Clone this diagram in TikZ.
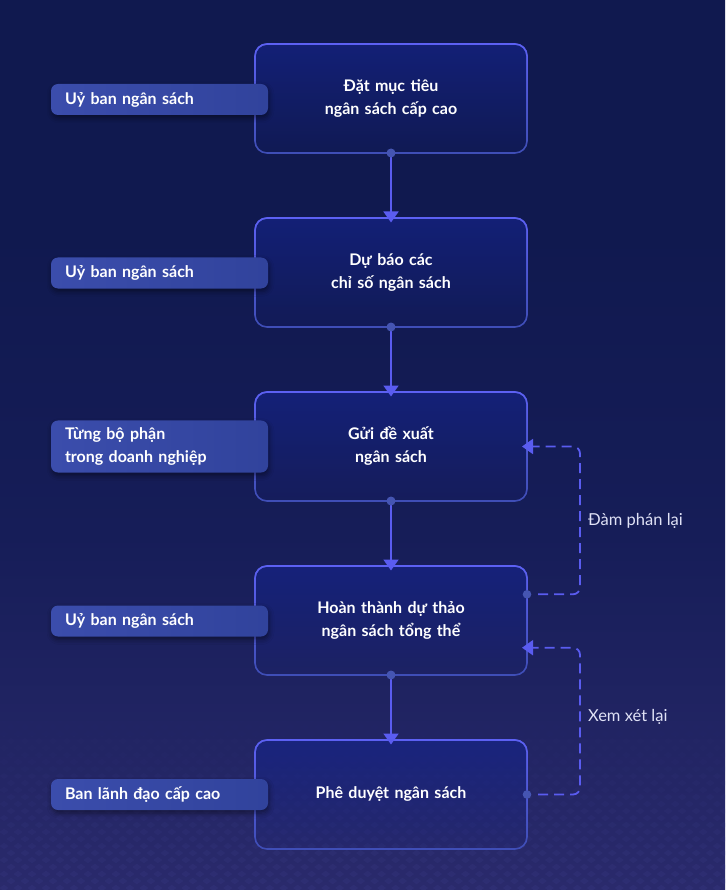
\documentclass[tikz,border=0pt]{standalone}
\usepackage{fontspec}
\setmainfont{Lato}
\usetikzlibrary{arrows.meta,shadows.blur,fadings,calc}
\definecolor{bgA}{HTML}{10194F}
\definecolor{bgB}{HTML}{161D58}
\definecolor{bgC}{HTML}{2A2A6C}
\definecolor{boxblue}{HTML}{15248C}
\definecolor{borderdim}{HTML}{3F4EB6}
\definecolor{borderbright}{HTML}{5D61F4}
\definecolor{flowc}{HTML}{5A5CF0}
\definecolor{dotc}{HTML}{4555B2}
\definecolor{lblL}{HTML}{3B4DAC}
\definecolor{lblR}{HTML}{31439C}
\definecolor{softtext}{HTML}{E0E2F6}
\definecolor{patc}{HTML}{5A5CB8}
\pgfdeclareverticalshading{bgshade}{100bp}{color(0bp)=(bgC); color(25bp)=(bgC); color(45bp)=(bgB); color(62bp)=(bgA); color(75bp)=(bgA); color(100bp)=(bgA)}
\tikzfading[name=fadedown, top color=transparent!0, bottom color=transparent!100]
\tikzfading[name=fadeup, top color=transparent!100, bottom color=transparent!0]
\tikzfading[name=boxfade, top color=transparent!35, bottom color=transparent!92]
\tikzset{
  stepbox/.style={rounded corners=12pt, minimum width=272pt, minimum height=109pt,
    text width=250pt, align=center, inner sep=0pt, outer sep=0pt,
    draw=borderdim, line width=1.6pt,
    preaction={fill=boxblue, path fading=boxfade},
    postaction={draw=borderbright, line width=1.6pt, path fading=fadedown},
    text=white, font=\bfseries\fontsize{16}{23}\selectfont},
  lbl/.style={rounded corners=7pt, anchor=west, minimum width=217pt, minimum height=31pt,
    text width=189pt, align=left, inner xsep=14pt, inner ysep=7pt, outer sep=0pt,
    left color=lblL, right color=lblR,
    blur shadow={shadow xshift=1pt, shadow yshift=-3pt, shadow blur radius=5pt, shadow opacity=45},
    text=white, font=\bfseries\fontsize{16}{23}\selectfont},
  flow/.style={draw=flowc, line width=1.8pt, -{Triangle[width=15pt,length=11pt]}, shorten >=-4.5pt},
  dl/.style={draw=flowc, line width=1.8pt, dash pattern=on 10pt off 6pt, rounded corners=7pt,
    -{Triangle[width=15pt,length=11pt]}, shorten >=-5pt, shorten <=11pt},
  looplbl/.style={anchor=west, text=softtext, font=\fontsize{16.5}{19}\selectfont, inner sep=0pt},
  dotst/.style={fill=dotc},
  pattern dots/.style={fill=patc, fill opacity=0.1, path fading=fadeup}
}
\begin{document}
\begin{tikzpicture}[x=1pt,y=-1pt]
\useasboundingbox (0,0) rectangle (725,890);
\shade[shading=bgshade] (0,0) rectangle (725,890);
% faint diamond texture near the bottom
\fill[pattern dots]
  \foreach \r in {0,...,26} {
    \foreach \c in {0,...,52} {
      ({\c*14+mod(\r,2)*7},{706+\r*7}) -- ++(4.5,-3.2) -- ++(4.5,3.2) -- ++(-4.5,3.2) -- cycle
    }
  };

\node[stepbox] (b1) at (391,98.5) {Đặt mục tiêu\\ngân sách cấp cao};
\node[stepbox] (b2) at (391,272.5) {Dự báo các\\chỉ số ngân sách};
\node[stepbox] (b3) at (391,446.5) {Gửi đề xuất\\ngân sách};
\node[stepbox] (b4) at (391,620.5) {Hoàn thành dự thảo\\ngân sách tổng thể};
\node[stepbox] (b5) at (391,794.5) {Phê duyệt ngân sách};

\node[lbl] (l1) at (51,99.5) {Uỷ ban ngân sách};
\node[lbl] (l2) at (51,273) {Uỷ ban ngân sách};
\node[lbl] (l3) at (51,446.5) {Từng bộ phận\\trong doanh nghiệp};
\node[lbl] (l4) at (51,621) {Uỷ ban ngân sách};
\node[lbl] (l5) at (51,794.5) {Ban lãnh đạo cấp cao};

\draw[flow] (b1.south) -- (b2.north);
\draw[flow] (b2.south) -- (b3.north);
\draw[flow] (b3.south) -- (b4.north);
\draw[flow] (b4.south) -- (b5.north);
\foreach \b in {b1,b2,b3,b4} \fill[dotst] (\b.south) circle (4.5pt);

\coordinate (d4) at ($(b4.east)+(0,-26.2)$);
\coordinate (t4) at ($(b4.east)+(0,27.2)$);
\draw[dl] (d4) -- ++(53,0) |- (b3.east);
\draw[dl] (b5.east) -- ++(53,0) |- (t4);
\fill[dotst] (d4) circle (4.3pt);
\fill[dotst] (b5.east) circle (4.3pt);

\node[looplbl] (n1) at (588,520.5) {Đàm phán lại};
\node[looplbl] (n2) at (588,716.5) {Xem xét lại};
\end{tikzpicture}
\end{document}
